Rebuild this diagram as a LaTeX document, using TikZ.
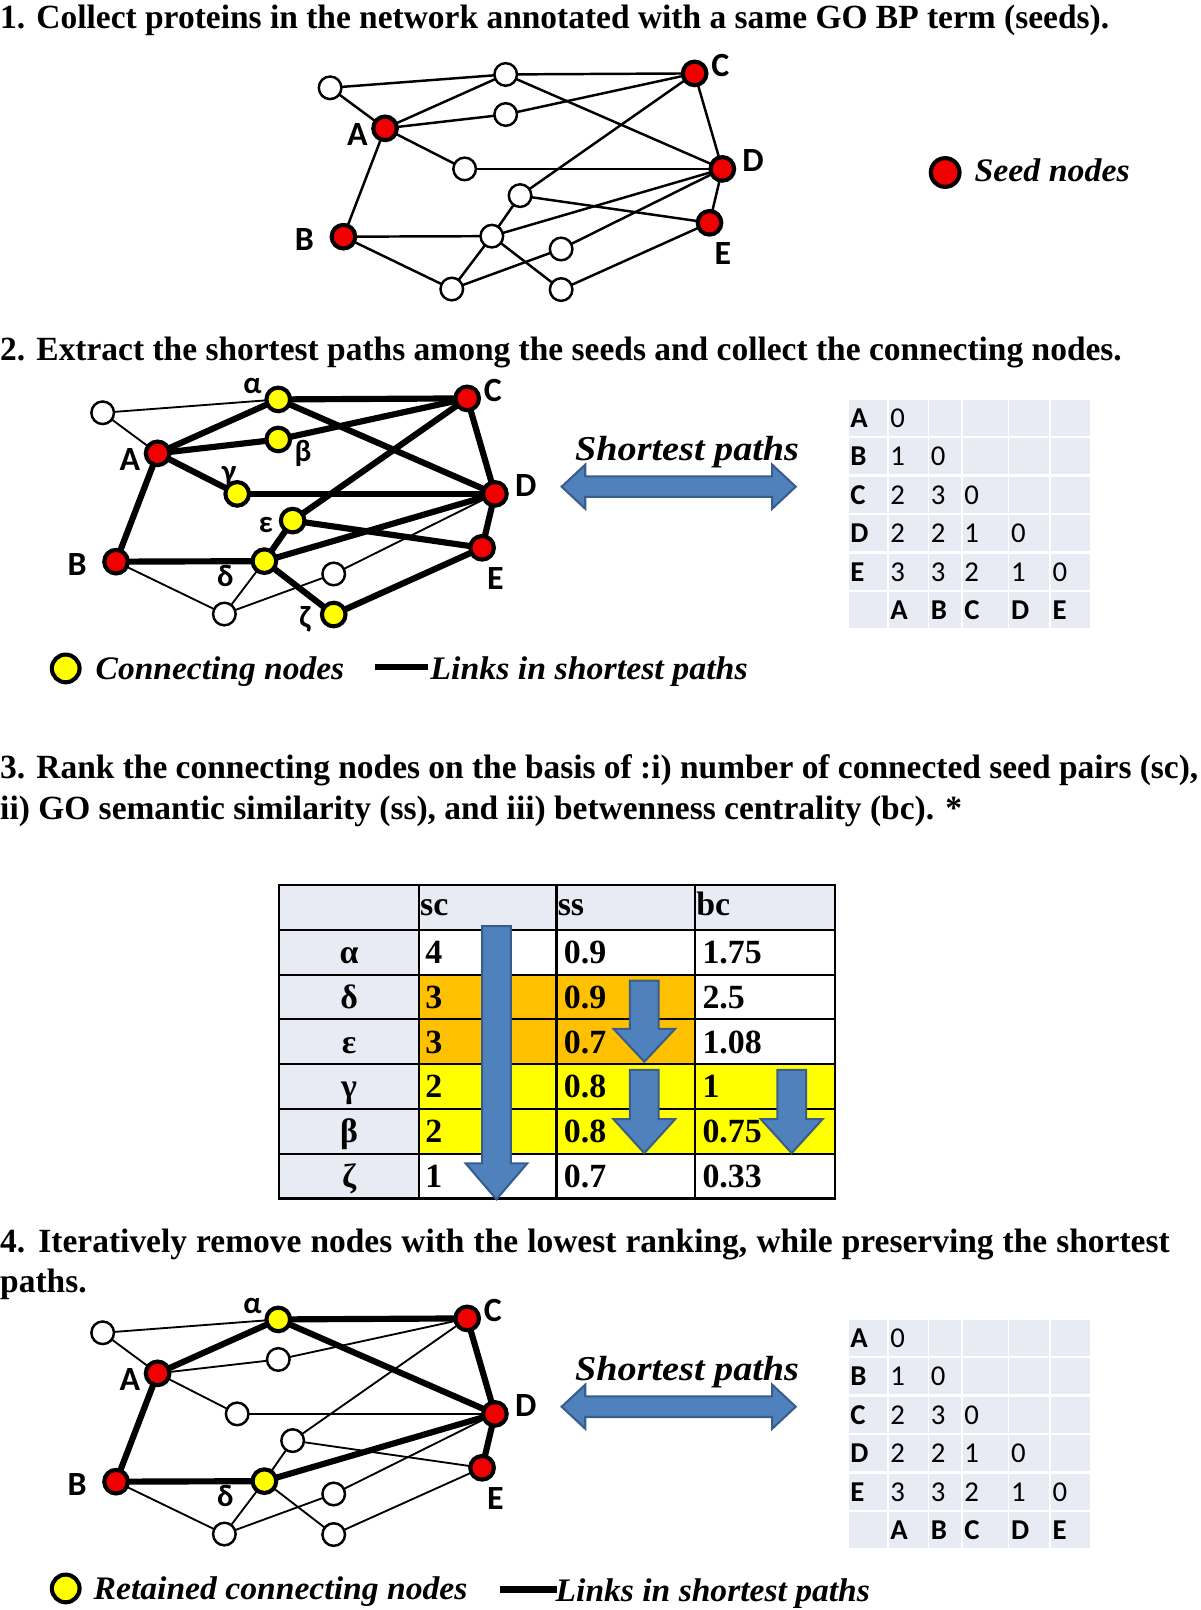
\documentclass[tikz,border=0pt]{standalone}
\usepackage{fontspec}
\usepackage{graphicx}
\setmainfont{Liberation Serif}
\newfontfamily\calib{Carlito}
\usetikzlibrary{backgrounds}
\definecolor{seedred}{RGB}{240,0,0}
\definecolor{connyel}{RGB}{255,255,0}
\definecolor{cellorange}{RGB}{255,192,0}
\definecolor{cellgray}{RGB}{232,235,243}
\definecolor{arrfill}{RGB}{79,129,189}
\definecolor{arredge}{RGB}{56,93,138}
\newcommand\titlefont{\fontsize{33}{38}\selectfont\bfseries}
\newcommand\legfont{\fontsize{32}{38}\selectfont\bfseries\itshape}
\newcommand\fitw[2]{\resizebox{#1}{\height}{#2}}
\newlength\tlw
\tikzset{
  wnode/.style={circle, draw=black, fill=white, line width=2.4pt, minimum size=22pt, inner sep=0pt},
  rnode/.style={wnode, fill=seedred, line width=4pt, minimum size=23pt},
  ynode/.style={wnode, fill=connyel, line width=4pt, minimum size=23pt},
  linkA/.style={line width=2.4pt},
  linkthin/.style={line width=1.8pt},
  linkthick/.style={line width=6pt},
  lbl/.style={font=\calib\bfseries\fontsize{33}{33}\selectfont, inner sep=0pt},
  glbl/.style={font=\calib\bfseries\fontsize{30}{30}\selectfont, inner sep=0pt},
  dtxtb/.style={font=\calib\bfseries\fontsize{28}{28}\selectfont, inner sep=0pt, anchor=west},
  dtxt/.style={font=\calib\fontsize{28}{28}\selectfont, inner sep=0pt, anchor=west},
  ttxt/.style={font=\fontsize{33}{33}\selectfont\bfseries, inner sep=0pt},
  arrstyle/.style={fill=arrfill, draw=arredge, line width=2pt, line join=miter},
  plaintxt/.style={inner sep=0pt, anchor=base west},
}
\newcommand\seedlabels[1]{%
  \node[lbl] (#1-tA) at ([shift={(-27,6)}]#1-A) {A};
  \node[lbl] (#1-tB) at ([shift={(-38,3)}]#1-B) {B};
  \node[lbl] (#1-tC) at ([shift={(25,-8)}]#1-C) {C};
  \node[lbl] (#1-tD) at ([shift={(30,-8)}]#1-D) {D};
  \node[lbl] (#1-tE) at ([shift={(13,30)}]#1-E) {E};
}
\newcommand\disttable[2]{%
  \foreach \r in {0,...,5}{
    \foreach \l/\rr in {826.5/864, 865.5/903.5, 905/936, 937.5/981.5, 983/1022, 1023.5/1062}{
      \fill[cellgray] (\l,388+37.5*\r+#2+1.2) rectangle (\rr,388+37.5*\r+37.5+#2-1.2);
    }
  }
  \foreach \r/\c/\t in {0/0/A,1/0/B,2/0/C,3/0/D,4/0/E,5/1/A,5/2/B,5/3/C,5/4/D,5/5/E}{
    \pgfmathsetmacro\tx{{828,867,906.5,939,984.5,1025}[\c]}
    \node[dtxtb] (#1-\r-\c) at (\tx,388+37.5*\r+19+#2) {\t};
  }
  \foreach \r/\c/\t in {0/1/0,1/1/1,1/2/0,2/1/2,2/2/3,2/3/0,3/1/2,3/2/2,3/3/1,3/4/0,4/1/3,4/2/3,4/3/2,4/4/1,4/5/0}{
    \pgfmathsetmacro\tx{{828,867,906.5,939,984.5,1025}[\c]}
    \node[dtxt] (#1-\r-\c) at (\tx,388+37.5*\r+19+#2) {\t};
  }
}
\newcommand\dblarrow[3]{%
  \draw[arrstyle] (#2,#1) -- (#2+23,#1-21.5) -- (#2+23,#1-10) -- (#3-23,#1-10) -- (#3-23,#1-21.5) -- (#3,#1)
    -- (#3-23,#1+21.5) -- (#3-23,#1+10) -- (#2+23,#1+10) -- (#2+23,#1+21.5) -- cycle;
}
\newcommand\tblarrow[6]{%
  \draw[arrstyle] (#1-#5,#2) -- (#1+#5,#2) -- (#1+#5,#3) -- (#1+#6,#3) -- (#1,#4) -- (#1-#6,#3) -- (#1-#5,#3) -- cycle;
}
\begin{document}
\settowidth\tlw{\titlefont 1. Collect proteins in the network annotated with a same GO BP term (seeds).}%
\pgfmathsetmacro\sone{1080/\tlw}%
\pgfmathsetlengthmacro\wthree{1167pt/\sone}%
\pgfmathsetlengthmacro\wfour{1139pt/\sone}%
\begin{tikzpicture}[x=1pt,y=-1pt]
\begin{scope}[on background layer]
\fill[white] (0,0) rectangle (1169,1568);
\end{scope}
\useasboundingbox (0,0) rectangle (1169,1568);

% ---------------- titles ----------------
\node[plaintxt] (t1) at (0,28) {\scalebox{\sone}[1]{\titlefont 1. Collect proteins in the network annotated with a same GO BP term (seeds).}};
\node[plaintxt] (t2) at (0,351) {\scalebox{\sone}[1]{\titlefont 2. Extract the shortest paths among the seeds and collect the connecting nodes.}};
\node[plaintxt] (t3a) at (0,758) {\scalebox{\sone}[1]{\makebox[\wthree][s]{\titlefont 3. Rank the connecting nodes on the basis of :i) number of connected seed pairs (sc),}}};
\node[plaintxt] (t3b) at (0,798) {\scalebox{\sone}[1]{\titlefont ii) GO semantic similarity (ss), and iii) betwenness centrality (bc). *}};
\node[plaintxt] (t4a) at (0,1220) {\scalebox{\sone}[1]{\makebox[\wfour][s]{\titlefont 4. Iteratively remove nodes with the lowest ranking, while preserving the shortest}}};
\node[plaintxt] (t4b) at (0,1259) {\scalebox{\sone}[1]{\titlefont paths.}};

% ---------------- graph 1 ----------------
\begin{scope}[shift={(221.5,-316.5)}]
\foreach \n/\x/\y/\s in {n1/100/402/wnode, al/271/389/wnode, C/455/388/rnode, be/271/428/wnode,
  A/153.5/441.5/rnode, ga/231/481/wnode, D/482/481/rnode, ep/285/507/wnode, E/469.5/533.5/rnode,
  B/113/547/rnode, de/257.5/546.5/wnode, n7/325/559/wnode, n8/218.5/598/wnode, ze/325/598.5/wnode}
  \node[\s] (g1-\n) at (\x,\y) {};
\end{scope}
\begin{scope}[on background layer]
\foreach \a/\b in {n1/al, n1/A, al/C, al/A, al/D, A/be, be/C, A/ga, ga/D, A/B, C/D, ep/C, ep/E, ep/de,
  D/E, B/de, B/n8, de/D, de/n8, de/ze, n8/n7, n7/D, ze/E}
  \draw[linkA] (g1-\a.center) -- (g1-\b.center);
\end{scope}
\seedlabels{g1}
\node[rnode, minimum size=28pt, line width=4pt] (lg1-dot) at (920.5,168) {};
\node[plaintxt] (lg1-txt) at (949,177) {\fitw{151pt}{\legfont Seed nodes}};

% ---------------- graph 2 ----------------
\foreach \n/\x/\y/\s in {n1/100/402/wnode, al/271/389/ynode, C/455/388/rnode, be/271/428/ynode,
  A/153.5/441.5/rnode, ga/231/481/ynode, D/482/481/rnode, ep/285/507/ynode, E/469.5/533.5/rnode,
  B/113/547/rnode, de/257.5/546.5/ynode, n7/325/559/wnode, n8/218.5/598/wnode, ze/325/598.5/ynode}
  \node[\s] (g2-\n) at (\x,\y) {};
\begin{scope}[on background layer]
\foreach \a/\b in {n1/al, n1/A, B/n8, de/n8, n8/n7, n7/D}
  \draw[linkthin] (g2-\a.center) -- (g2-\b.center);
\foreach \a/\b in {al/C, al/A, al/D, A/be, be/C, A/ga, ga/D, A/B, C/D, ep/C, ep/E, ep/de, D/E, B/de, de/D, de/ze, ze/E}
  \draw[linkthick] (g2-\a.center) -- (g2-\b.center);
\end{scope}
\seedlabels{g2}
\node[glbl] (g2-tal) at ([shift={(-25,-13)}]g2-al) {α};
\node[glbl] (g2-tbe) at ([shift={(24,14)}]g2-be) {β};
\node[glbl] (g2-tga) at ([shift={(-8,-17)}]g2-ga) {γ};
\node[glbl] (g2-tep) at ([shift={(-26,4)}]g2-ep) {ε};
\node[glbl] (g2-tde) at ([shift={(-38,14)}]g2-de) {δ};
\node[glbl] (g2-tze) at ([shift={(-28,5)}]g2-ze) {ζ};

\node[plaintxt] (sp2-txt) at (560,448) {\fitw{218pt}{\fontsize{34}{40}\selectfont\bfseries\itshape Shortest paths}};
\dblarrow{474}{547}{775}
\disttable{d2}{0}

\node[ynode, minimum size=27pt, line width=4pt] (lg2-dot) at (64,651) {};
\node[plaintxt] (lg2-txt) at (93,662) {\fitw{242pt}{\legfont Connecting nodes}};
\coordinate (lg2-la) at (365,650);
\coordinate (lg2-lb) at (417,650);
\draw[line width=6pt] (lg2-la) -- (lg2-lb);
\node[plaintxt] (lg2-txt2) at (419,662) {\fitw{309pt}{\legfont Links in shortest paths}};

% ---------------- table 3 ----------------
\fill[cellgray] (272,862) rectangle (813,905.6);
\fill[cellgray] (272,905.6) rectangle (408,1167.2);
\fill[cellorange] (408,949.2) rectangle (677,1036.4);
\fill[connyel] (408,1036.4) rectangle (813,1123.6);
\draw[line width=2pt] (272,862) rectangle (813,1167.2);
\foreach \x in {408,542,677} \draw[line width=2pt] (\x,862) -- (\x,1167.2);
\foreach \y in {905.6,949.2,992.8,1036.4,1080,1123.6} \draw[line width=2pt] (272,\y) -- (813,\y);
\node[ttxt, anchor=base west] (t3-hsc) at (409,891.5) {sc};
\node[ttxt, anchor=base west] (t3-hss) at (543,891.5) {ss};
\node[ttxt, anchor=base west] (t3-hbc) at (678,891.5) {bc};
\foreach \g [count=\i from 0] in {α,δ,ε,γ,β,ζ}
  \node[ttxt, anchor=base] (t3-l\i) at (340,938.5+43.6*\i) {\g};
\foreach \i/\a/\b/\c in {0/4/0.9/1.75, 1/3/0.9/2.5, 2/3/0.7/1.08, 3/2/0.8/1, 4/2/0.8/0.75, 5/1/0.7/0.33}{
  \node[ttxt, anchor=base west] (t3-sc\i) at (414,938.5+43.6*\i) {\a};
  \node[ttxt, anchor=base west] (t3-ss\i) at (549,938.5+43.6*\i) {\b};
  \node[ttxt, anchor=base west] (t3-bc\i) at (684,938.5+43.6*\i) {\c};
}
\tblarrow{483.5}{902}{1133}{1168}{14}{30}
\tblarrow{627.5}{955}{1002}{1034}{14}{30}
\tblarrow{627.5}{1042}{1090}{1123}{14}{30}
\tblarrow{771}{1042}{1090}{1123}{14}{30}

% ---------------- graph 4 ----------------
\begin{scope}[shift={(0,896)}]
\foreach \n/\x/\y/\s in {n1/100/402/wnode, al/271/389/ynode, C/455/388/rnode, be/271/428/wnode,
  A/153.5/441.5/rnode, ga/231/481/wnode, D/482/481/rnode, ep/285/507/wnode, E/469.5/533.5/rnode,
  B/113/547/rnode, de/257.5/546.5/ynode, n7/325/559/wnode, n8/218.5/598/wnode, ze/325/598.5/wnode}
  \node[\s] (g4-\n) at (\x,\y) {};
\end{scope}
\begin{scope}[on background layer]
\foreach \a/\b in {n1/al, n1/A, A/be, be/C, A/ga, ga/D, ep/C, ep/E, ep/de, B/n8, de/n8, de/ze, n8/n7, n7/D, ze/E}
  \draw[linkthin] (g4-\a.center) -- (g4-\b.center);
\foreach \a/\b in {al/C, al/A, al/D, A/B, B/de, de/D, C/D, D/E}
  \draw[linkthick] (g4-\a.center) -- (g4-\b.center);
\end{scope}
\seedlabels{g4}
\node[glbl] (g4-tal) at ([shift={(-25,-13)}]g4-al) {α};
\node[glbl] (g4-tde) at ([shift={(-38,14)}]g4-de) {δ};

\node[plaintxt] (sp4-txt) at (560,1344) {\fitw{218pt}{\fontsize{34}{40}\selectfont\bfseries\itshape Shortest paths}};
\dblarrow{1370}{547}{775}
\disttable{d4}{896}

\node[ynode, minimum size=27pt, line width=4pt] (lg4-dot) at (64,1547) {};
\node[plaintxt] (lg4-txt) at (91,1558) {\fitw{364pt}{\legfont Retained connecting nodes}};
\coordinate (lg4-la) at (487,1548);
\coordinate (lg4-lb) at (542,1548);
\draw[line width=6pt] (lg4-la) -- (lg4-lb);
\node[plaintxt] (lg4-txt2) at (541,1560) {\fitw{306pt}{\legfont Links in shortest paths}};
\end{tikzpicture}
\end{document}
